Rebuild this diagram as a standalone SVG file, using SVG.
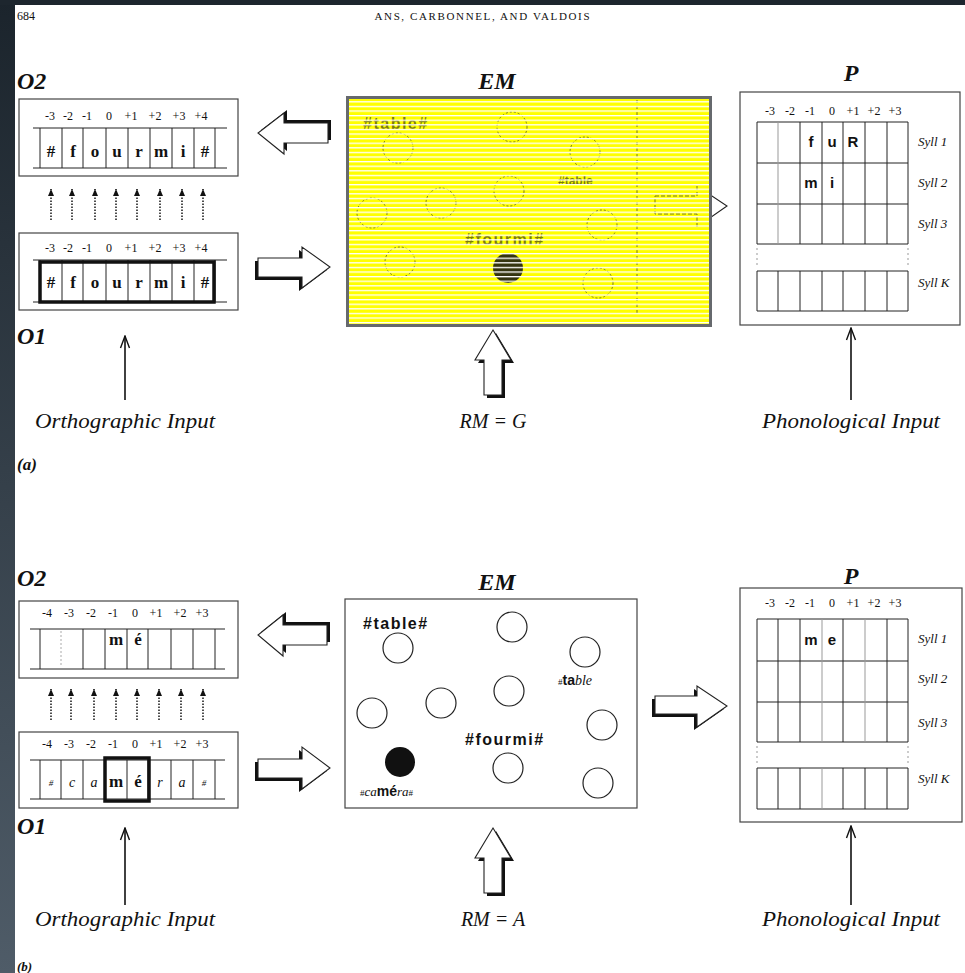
<svg xmlns="http://www.w3.org/2000/svg" width="965" height="973" viewBox="0 0 965 973">
<defs>
<linearGradient id="strip" x1="0" y1="0" x2="0" y2="1">
<stop offset="0" stop-color="#1b242c"/>
<stop offset="1" stop-color="#4f5c68"/>
</linearGradient>
<pattern id="stripes" width="20" height="4.6" patternUnits="userSpaceOnUse">
<rect x="0" y="0" width="20" height="1.3" fill="#ffffff"/>
</pattern>
<marker id="open" viewBox="-14 -6 15 12" markerWidth="15" markerHeight="12" markerUnits="userSpaceOnUse" refX="0" refY="0" orient="auto">
<path d="M-12,-4.5 L0,0 L-12,4.5" fill="none" stroke="#111" stroke-width="1.4"/>
</marker>
<marker id="dot" viewBox="-8 -4 9 8" markerWidth="9" markerHeight="8" markerUnits="userSpaceOnUse" refX="0" refY="0" orient="auto">
<path d="M-7,-3 L0,0 L-7,3 Z" fill="#111"/>
</marker>
<style>
.num{font-family:"Liberation Serif",serif;font-size:12px;fill:#111;text-anchor:middle}
.let{font-family:"Liberation Serif",serif;font-size:17px;font-weight:bold;fill:#111;text-anchor:middle}
.ital{font-family:"Liberation Serif",serif;font-style:italic;fill:#111}
.lab{font-family:"Liberation Serif",serif;font-style:italic;font-weight:bold;font-size:24px;fill:#111}
.inp{font-family:"Liberation Serif",serif;font-style:italic;font-size:20px;fill:#111;text-anchor:middle}
.syl{font-family:"Liberation Serif",serif;font-style:italic;font-size:13px;fill:#111}
.ph{font-family:"Liberation Sans",sans-serif;font-weight:bold;font-size:15px;fill:#111;text-anchor:middle}
.box{fill:#fff;stroke:#444;stroke-width:1.2}
.grid{fill:none;stroke:#222;stroke-width:1}
.thick{fill:none;stroke:#111;stroke-width:3.5}
.node{fill:#fff;stroke:#222;stroke-width:1.2}
.word{font-family:"Liberation Sans",sans-serif;font-weight:bold;font-size:16px;fill:#111;letter-spacing:1.5px}
.shadow{fill:#111}
.block{fill:#fff;stroke:#222;stroke-width:1.1}
.line{fill:none;stroke:#111;stroke-width:1.6}
.dotted{fill:none;stroke:#222;stroke-width:1.6;stroke-dasharray:1.6 1.4}
</style>
</defs>

<rect x="0" y="0" width="965" height="973" fill="#ffffff"/>
<rect x="0" y="0" width="15" height="973" fill="url(#strip)"/>
<rect x="0" y="0" width="965" height="5" fill="#1d262e"/>

<g id="header">
<text x="17" y="20" font-family="Liberation Serif, serif" font-size="12" fill="#111">684</text>
<text x="482" y="20" font-family="Liberation Serif, serif" font-size="11" fill="#111" text-anchor="middle" textLength="215" lengthAdjust="spacing">ANS, CARBONNEL, AND VALDOIS</text>
</g>

<!-- ================= PANEL (a) ================= -->
<g id="a-O2">
<text class="lab" x="17" y="89">O2</text>
<rect class="box" x="19" y="99" width="219" height="77"/>
<g class="num"><text x="50" y="120">-3</text><text x="68" y="120">-2</text><text x="87" y="120">-1</text><text x="109" y="120">0</text><text x="131" y="120">+1</text><text x="155" y="120">+2</text><text x="179" y="120">+3</text><text x="201" y="120">+4</text></g>
<path class="grid" d="M33,128H227M33,168H227M40,128V168M62,128V168M83,128V168M106,128V168M128,128V168M150,128V168M172,128V168M194,128V168M215,128V168"/>
<g class="let"><text x="51" y="157">#</text><text x="73" y="157">f</text><text x="95" y="157">o</text><text x="117" y="157">u</text><text x="139" y="157">r</text><text x="161" y="157">m</text><text x="183" y="157">i</text><text x="205" y="157">#</text></g>
</g>

<g id="a-O1">
<rect class="box" x="19" y="233" width="219" height="77"/>
<g class="num"><text x="50" y="252">-3</text><text x="68" y="252">-2</text><text x="87" y="252">-1</text><text x="109" y="252">0</text><text x="131" y="252">+1</text><text x="155" y="252">+2</text><text x="179" y="252">+3</text><text x="201" y="252">+4</text></g>
<path class="grid" d="M33,260H227M33,302H227M40,260V302M62,260V302M83,260V302M106,260V302M128,260V302M150,260V302M172,260V302M194,260V302M215,260V302"/>
<rect class="thick" x="40" y="262" width="174" height="40"/>
<g class="let"><text x="51" y="288">#</text><text x="73" y="288">f</text><text x="95" y="288">o</text><text x="117" y="288">u</text><text x="139" y="288">r</text><text x="161" y="288">m</text><text x="183" y="288">i</text><text x="205" y="288">#</text></g>
<text class="lab" x="17" y="344">O1</text>
</g>

<g id="a-P">
<text class="lab" x="851" y="81" text-anchor="middle">P</text>
<rect class="box" x="740" y="92" width="220" height="233"/>
<g class="num"><text x="770" y="115">-3</text><text x="790" y="115">-2</text><text x="810" y="115">-1</text><text x="832" y="115">0</text><text x="853" y="115">+1</text><text x="874" y="115">+2</text><text x="895" y="115">+3</text></g>
<path class="grid" d="M757,122H908M757,163H908M757,204H908M757,244H908M757,122V244M800,122V244M822,122V244M843,122V244M865,122V244M887,122V244M908,122V244M757,271H908M757,311H908M757,271V311M778,271V311M800,271V311M822,271V311M843,271V311M865,271V311M887,271V311M908,271V311"/>
<path d="M778,122V244" stroke="#999" stroke-width="1"/>
<path d="M757,248V268M908,248V268" stroke="#999" stroke-width="1" stroke-dasharray="2 3"/>
<text class="ph" x="811" y="147">f</text><text class="ph" x="832" y="147">u</text><text class="ph" x="853" y="147" font-size="12">R</text>
<text class="ph" x="811" y="188">m</text><text class="ph" x="832" y="188">i</text>
<text class="syl" x="918" y="146">Syll 1</text>
<text class="syl" x="918" y="187">Syll 2</text>
<text class="syl" x="918" y="228">Syll 3</text>
<text class="syl" x="918" y="287">Syll K</text>
</g>

<g id="a-connectors">
<polygon class="block" points="655,196 697,196 697,186 727,206 697,227 697,214 655,214" stroke="#777"/>
<polygon class="shadow" points="328,123 284,123 284,113 258,133 284,154 284,143 328,143" transform="translate(3,-3)"/>
<polygon class="block" points="328,123 284,123 284,113 258,133 284,154 284,143 328,143"/>
<polygon class="shadow" points="258,258 302,258 302,247 330,267 302,288 302,277 258,277" transform="translate(-3,3)"/>
<polygon class="block" points="258,258 302,258 302,247 330,267 302,288 302,277 258,277"/>
<polygon class="shadow" points="493,330 511,360 502,360 502,395 484,395 484,360 475,360" transform="translate(3,3)"/>
<polygon class="block" points="493,330 511,360 502,360 502,395 484,395 484,360 475,360"/>
<g class="dotted" marker-end="url(#dot)">
<path d="M51,220V189"/><path d="M72,220V189"/><path d="M95,220V189"/><path d="M116,220V189"/>
<path d="M137,220V189"/><path d="M160,220V189"/><path d="M182,220V189"/><path d="M203,220V189"/>
</g>
<path class="line" marker-end="url(#open)" d="M125,400V336"/>
<path class="line" marker-end="url(#open)" d="M851,400V328"/>
</g>

<g id="a-EM">
<text class="lab" x="497" y="89" text-anchor="middle">EM</text>
<rect x="347.5" y="97.5" width="363" height="228" fill="#ffff00" stroke="#66696d" stroke-width="3"/>
<g opacity="0.6" fill="none" stroke="#222" stroke-width="1" stroke-dasharray="2 2">
<circle cx="398" cy="148" r="15"/><circle cx="512" cy="127" r="15"/><circle cx="585" cy="152" r="15"/>
<circle cx="509" cy="191" r="15"/><circle cx="441" cy="203" r="15"/><circle cx="372" cy="213" r="15"/>
<circle cx="602" cy="225" r="15"/><circle cx="400" cy="262" r="15"/><circle cx="598" cy="283" r="15"/>
<path d="M637,100V315" stroke-dasharray="3 3"/>
<path d="M655,196H697V186M697,227V214H655V196" stroke-dasharray="4 2"/>
</g>
<circle cx="508" cy="268" r="15" fill="#111" opacity="0.85"/>
<g opacity="0.55">
<text class="word" x="363" y="129">#table#</text>
<text class="word" x="465" y="245">#fourmi#</text>
<text x="558" y="185" font-family="Liberation Sans, sans-serif" font-weight="bold" font-size="12" fill="#111">#table</text>
</g>
<rect x="349" y="99" width="360" height="225" fill="url(#stripes)"/>
</g>

<text id="a-labels-ortho" class="inp" x="125" y="428" textLength="180" lengthAdjust="spacingAndGlyphs">Orthographic Input</text>
<text id="a-labels-rm" class="inp" x="493" y="428">RM = G</text>
<text id="a-labels-phono" class="inp" x="851" y="428" textLength="178" lengthAdjust="spacingAndGlyphs">Phonological Input</text>
<text id="a-tag" x="17" y="470" font-family="Liberation Serif, serif" font-style="italic" font-weight="bold" font-size="17" fill="#111">(a)</text>

<!-- ================= PANEL (b) ================= -->
<g id="b-O2">
<text class="lab" x="17" y="586">O2</text>
<rect class="box" x="19" y="601" width="219" height="77"/>
<g class="num"><text x="47" y="617">-4</text><text x="69" y="617">-3</text><text x="91" y="617">-2</text><text x="113" y="617">-1</text><text x="135" y="617">0</text><text x="156" y="617">+1</text><text x="180" y="617">+2</text><text x="202" y="617">+3</text></g>
<path class="grid" d="M30,629H225M30,669H225M40,629V669M83,629V669M105,629V669M127,629V669M148,629V669M171,629V669M193,629V669M215,629V669"/>
<path d="M61,631V667" stroke="#aaa" stroke-width="1" stroke-dasharray="2 2"/>
<text class="let" x="116" y="645">m</text><text class="let" x="138" y="645">é</text>
</g>

<g id="b-O1">
<rect class="box" x="19" y="732" width="219" height="76"/>
<g class="num"><text x="47" y="748">-4</text><text x="69" y="748">-3</text><text x="91" y="748">-2</text><text x="113" y="748">-1</text><text x="135" y="748">0</text><text x="156" y="748">+1</text><text x="180" y="748">+2</text><text x="202" y="748">+3</text></g>
<path class="grid" d="M30,760H225M30,799H225M40,760V799M61,760V799M83,760V799M105,760V799M127,760V799M148,760V799M171,760V799M193,760V799M215,760V799"/>
<rect class="thick" x="105" y="758" width="44" height="43"/>
<g class="ital" font-size="14" text-anchor="middle">
<text x="51" y="786" font-size="9">#</text><text x="72" y="787">c</text><text x="94" y="787">a</text><text x="160" y="787">r</text><text x="182" y="787">a</text><text x="204" y="786" font-size="9">#</text>
</g>
<text class="let" x="116" y="787">m</text><text class="let" x="138" y="787">é</text>
<text class="lab" x="17" y="834">O1</text>
</g>

<g id="b-EM">
<text class="lab" x="497" y="590" text-anchor="middle">EM</text>
<rect class="box" x="345" y="599" width="292" height="209"/>
<text class="word" x="363" y="629">#table#</text>
<text class="word" x="465" y="745">#fourmi#</text>
<text x="558" y="685" fill="#111"><tspan font-family="Liberation Serif, serif" font-size="9">#</tspan><tspan font-family="Liberation Sans, sans-serif" font-weight="bold" font-size="14">ta</tspan><tspan font-family="Liberation Serif, serif" font-style="italic" font-size="14">ble</tspan></text>
<text x="360" y="796" fill="#111"><tspan font-family="Liberation Serif, serif" font-size="9">#</tspan><tspan font-family="Liberation Serif, serif" font-style="italic" font-size="13">ca</tspan><tspan font-family="Liberation Sans, sans-serif" font-weight="bold" font-size="14">mé</tspan><tspan font-family="Liberation Serif, serif" font-style="italic" font-size="13">ra</tspan><tspan font-family="Liberation Serif, serif" font-size="9">#</tspan></text>
<g id="b-nodes">
<circle class="node" cx="398" cy="648" r="15"/>
<circle class="node" cx="512" cy="627" r="15"/>
<circle class="node" cx="585" cy="652" r="15"/>
<circle class="node" cx="509" cy="691" r="15"/>
<circle class="node" cx="441" cy="703" r="15"/>
<circle class="node" cx="372" cy="713" r="15"/>
<circle class="node" cx="602" cy="725" r="15"/>
<circle cx="400" cy="762" r="15" fill="#111"/>
<circle class="node" cx="508" cy="768" r="15"/>
<circle class="node" cx="598" cy="783" r="15"/>
</g>
</g>

<g id="b-P">
<text class="lab" x="851" y="584" text-anchor="middle">P</text>
<rect class="box" x="740" y="588" width="222" height="234"/>
<g class="num"><text x="770" y="607">-3</text><text x="790" y="607">-2</text><text x="810" y="607">-1</text><text x="832" y="607">0</text><text x="853" y="607">+1</text><text x="874" y="607">+2</text><text x="895" y="607">+3</text></g>
<path class="grid" d="M757,619H908M757,661H908M757,702H908M757,742H908M757,619V742M778,619V742M800,619V742M843,619V742M887,619V742M908,619V742M757,768H908M757,809H908M757,768V809M778,768V809M800,768V809M843,768V809M865,768V809M887,768V809M908,768V809"/>
<path d="M822,619V742M865,619V742M822,768V809" stroke="#999" stroke-width="1"/>
<path d="M757,746V766M908,746V766" stroke="#999" stroke-width="1" stroke-dasharray="2 3"/>
<text class="ph" x="811" y="645">m</text><text class="ph" x="832" y="645">e</text>
<text class="syl" x="918" y="643">Syll 1</text>
<text class="syl" x="918" y="683">Syll 2</text>
<text class="syl" x="918" y="727">Syll 3</text>
<text class="syl" x="918" y="783">Syll K</text>
</g>

<g id="b-connectors">
<polygon class="shadow" points="327,625 283,625 283,615 258,635 283,656 283,645 327,645" transform="translate(3,-3)"/>
<polygon class="block" points="327,625 283,625 283,615 258,635 283,656 283,645 327,645"/>
<polygon class="shadow" points="258,759 302,759 302,747 330,768 302,789 302,778 258,778" transform="translate(-3,3)"/>
<polygon class="block" points="258,759 302,759 302,747 330,768 302,789 302,778 258,778"/>
<polygon class="shadow" points="655,696 697,696 697,686 727,706 697,727 697,714 655,714" transform="translate(-3,3)"/>
<polygon class="block" points="655,696 697,696 697,686 727,706 697,727 697,714 655,714"/>
<polygon class="shadow" points="493,828 511,858 502,858 502,893 484,893 484,858 475,858" transform="translate(3,3)"/>
<polygon class="block" points="493,828 511,858 502,858 502,893 484,893 484,858 475,858"/>
<g class="dotted" marker-end="url(#dot)">
<path d="M51,720V689"/><path d="M71,720V689"/><path d="M94,720V689"/><path d="M116,720V689"/>
<path d="M137,720V689"/><path d="M159,720V689"/><path d="M181,720V689"/><path d="M203,720V689"/>
</g>
<path class="line" marker-end="url(#open)" d="M125,905V828"/>
<path class="line" marker-end="url(#open)" d="M851,905V826"/>
</g>

<text id="b-labels-ortho" class="inp" x="125" y="926" textLength="180" lengthAdjust="spacingAndGlyphs">Orthographic Input</text>
<text id="b-labels-rm" class="inp" x="493" y="926">RM = A</text>
<text id="b-labels-phono" class="inp" x="851" y="926" textLength="178" lengthAdjust="spacingAndGlyphs">Phonological Input</text>
<text id="b-tag" x="17" y="971" font-family="Liberation Serif, serif" font-style="italic" font-weight="bold" font-size="13" fill="#111">(b)</text>
</svg>
